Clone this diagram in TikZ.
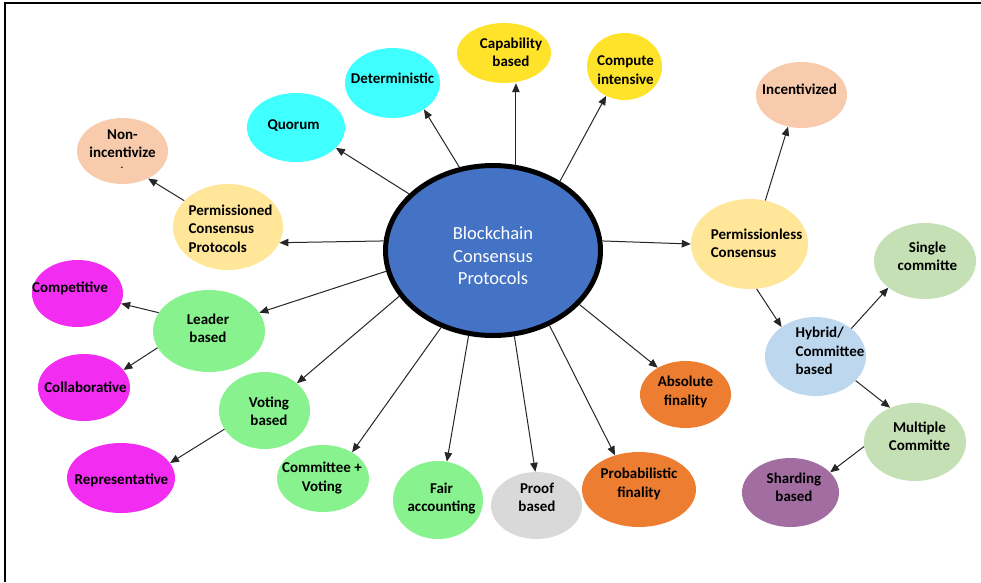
\documentclass[tikz,border=0pt]{standalone}
\usepackage{fontspec}
\setmainfont{Carlito}
\usetikzlibrary{shapes.geometric,arrows.meta}
\definecolor{cblue}{HTML}{4472C4}
\definecolor{ccyan}{HTML}{40FFFF}
\definecolor{cyell}{HTML}{FFE32B}
\definecolor{cpeach}{HTML}{F8CBAD}
\definecolor{clyell}{HTML}{FFE699}
\definecolor{clgreen}{HTML}{C5E0B4}
\definecolor{clblue}{HTML}{BDD7EE}
\definecolor{cpurple}{HTML}{A26EA1}
\definecolor{corange}{HTML}{ED7D31}
\definecolor{cgray}{HTML}{D9D9D9}
\definecolor{cgreen}{HTML}{87F28E}
\definecolor{cmag}{HTML}{F22CF1}
\begin{document}
\begin{tikzpicture}[x=1pt,y=-1pt,
  bub/.style={ellipse,inner sep=0pt,draw=none},
  lab/.style={font=\fontsize{15}{18.3}\selectfont\bfseries,align=center,inner sep=0pt,text=black},
  arr/.style={-{Triangle[length=9pt,width=7.5pt]},line width=1pt,draw=black!85}]
\useasboundingbox (0,0) rectangle (981,582);
\draw[line width=2.3pt] (5.3,582) -- (5.3,3) -- (981,3);

% center
\node[ellipse,draw=black,line width=5pt,fill=cblue,minimum width=215pt,minimum height=170pt,inner sep=0pt] (c) at (493,250.5) {};
\node[font=\fontsize{18.5}{22.5}\selectfont,text=white,align=center,inner sep=0pt] (ct) at (493,256) {Blockchain\\Consensus\\Protocols};

% bubbles
\node[bub,fill=ccyan,minimum width=98pt,minimum height=69pt] (quorum) at (296,127.5) {};
\node[bub,fill=ccyan,minimum width=95pt,minimum height=70pt] (det) at (392.5,83) {};
\node[bub,fill=cyell,minimum width=94pt,minimum height=60pt] (cap) at (504,53) {};
\node[bub,fill=cyell,minimum width=75pt,minimum height=67pt] (comp) at (624.5,66.5) {};
\node[bub,fill=cpeach,minimum width=91pt,minimum height=66pt] (incent) at (801.5,95) {};
\node[bub,fill=cpeach,minimum width=91pt,minimum height=66pt] (nonin) at (122.5,151) {};
\node[bub,fill=clyell,minimum width=110pt,minimum height=86pt] (perm) at (228,227) {};
\node[bub,fill=clyell,minimum width=117pt,minimum height=90pt] (perml) at (749.5,244) {};
\node[bub,fill=clgreen,minimum width=102pt,minimum height=76pt] (single) at (925,261) {};
\node[bub,fill=clblue,minimum width=101pt,minimum height=79pt] (hybrid) at (815.5,356.5) {};
\node[bub,fill=clgreen,minimum width=102pt,minimum height=78pt] (multi) at (915,442) {};
\node[bub,fill=cpurple,minimum width=97pt,minimum height=69pt] (shard) at (790.5,492.5) {};
\node[bub,fill=corange,minimum width=91pt,minimum height=67pt] (abs) at (685.5,394.5) {};
\node[bub,fill=corange,minimum width=114pt,minimum height=75pt] (prob) at (639,489.5) {};
\node[bub,fill=cgray,minimum width=91pt,minimum height=67pt] (proof) at (536.5,505.5) {};
\node[bub,fill=cgreen,minimum width=90pt,minimum height=78pt] (fair) at (438,500) {};
\node[bub,fill=cgreen,minimum width=92pt,minimum height=67pt] (cv) at (323,478.5) {};
\node[bub,fill=cgreen,minimum width=91pt,minimum height=77pt] (voting) at (264.5,410.5) {};
\node[bub,fill=cgreen,minimum width=112pt,minimum height=82pt] (leader) at (209,331) {};
\node[bub,fill=cmag,minimum width=108pt,minimum height=70pt] (repr) at (121,478) {};
\node[bub,fill=cmag,minimum width=92pt,minimum height=67pt] (collab) at (84,387.5) {};
\node[bub,fill=cmag,minimum width=91pt,minimum height=67pt] (compet) at (77.5,293.5) {};

% labels
\node[lab] (t-quorum) at (293.5,126) {Quorum};
\node[lab] (t-det) at (392.5,78) {Deterministic};
\node[lab] (t-cap) at (511,52) {Capability\\based};
\node[lab] (t-comp) at (625.5,70) {Compute\\intensive};
\node[lab] (t-incent) at (799.5,89) {Incentivized};
\node[lab] (t-nonin) at (122.5,144) {Non-\\incentivize};
\node[lab,anchor=base,font=\fontsize{10}{12}\selectfont\bfseries] (t-nonin-dot) at (122,168.5) {.};
\node[lab,align=left] (t-perm) at (230.5,228.5) {Permissioned\\Consensus\\Protocols};
\node[lab,align=left] (t-perml) at (756.5,243) {Permissionless\\Consensus};
\node[lab] (t-single) at (927.5,256) {Single\\committe};
\node[lab,align=left] (t-hybrid) at (830,351) {Hybrid/\\Committee\\based};
\node[lab] (t-multi) at (919.5,436.5) {Multiple\\Committe};
\node[lab] (t-shard) at (794,487.5) {Sharding\\based};
\node[lab] (t-abs) at (685.5,392) {Absolute\\finality};
\node[lab] (t-prob) at (639,484) {Probabilistic\\finality};
\node[lab] (t-proof) at (537,497.5) {Proof\\based};
\node[lab] (t-fair) at (441.5,498.5) {Fair\\accounting};
\node[lab] (t-cv) at (322,478) {Committee +\\Voting};
\node[lab] (t-voting) at (269,411.5) {Voting\\based};
\node[lab] (t-leader) at (208,328.5) {Leader\\based};
\node[lab] (t-repr) at (121.5,480) {Representative};
\node[lab] (t-collab) at (85.5,387) {Collaborative};
\node[lab] (t-compet) at (70,288) {Competitive};

% connectors from center
\draw[arr] (c.146.6) -- (quorum.333);
\draw[arr] (c.112.3) -- (det.320);
\draw[arr] (c.75) -- (c.75 |- cap.south);
\draw[arr] (c.46.5) -- (comp.238);
\draw[arr] (c.175) -- (perm.-17);
\draw[arr] (c.5) -- (perml.180);
\draw[arr] (c.191.8) -- (leader.20);
\draw[arr] (c.206.3) -- (voting.40);
\draw[arr] (c.236.3) -- (cv.42);
\draw[arr] (c.254) -- (fair.77);
\draw[arr] (c.284) -- (proof.92);
\draw[arr] (c.307.6) -- (prob.125);
\draw[arr] (c.328.5) -- (abs.136);

% secondary connectors
\draw[arr] (perm.149) -- (nonin.313);
\draw[arr] (leader.160) -- (compet.347);
\draw[arr] (leader.198) -- (collab.24);
\draw[arr] (voting.205) -- (repr.17);
\draw[arr] (perml.70) -- (incent.247);
\draw[arr] (perml.279) -- (hybrid.139);
\draw[arr] (hybrid.38) -- (single.216);
\draw[arr] (hybrid.329) -- (multi.126);
\draw[arr] (multi.185) -- (shard.27);
\end{tikzpicture}
\end{document}
